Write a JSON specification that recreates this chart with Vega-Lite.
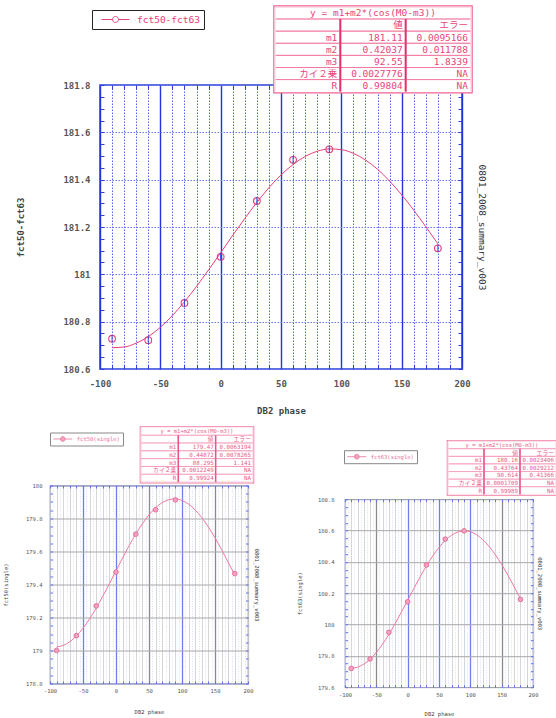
{
"$schema":"https://vega.github.io/schema/vega-lite/v6.json",
"background":"white",
"padding":{"left":2,"top":4,"right":0,"bottom":0},
"spacing":9.5,
"align":"none",
"resolve":{"scale":{"x":"independent","y":"independent","color":"independent"},"legend":{"color":"independent"}},
"datasets":{
"top_pts":[{"x":-90,"y":180.728,"s":"fct50-fct63"},{"x":-60,"y":180.722,"s":"fct50-fct63"},{"x":-30,"y":180.879,"s":"fct50-fct63"},{"x":0,"y":181.074,"s":"fct50-fct63"},{"x":30,"y":181.31,"s":"fct50-fct63"},{"x":60,"y":181.484,"s":"fct50-fct63"},{"x":90,"y":181.528,"s":"fct50-fct63"},{"x":180,"y":181.11,"s":"fct50-fct63"}],
"top_fit":[{"x":-90,"y":180.690},{"x":-80,"y":180.693},{"x":-70,"y":180.709},{"x":-60,"y":180.737},{"x":-50,"y":180.776},{"x":-40,"y":180.826},{"x":-30,"y":180.884},{"x":-20,"y":180.949},{"x":-10,"y":181.019},{"x":0,"y":181.091},{"x":10,"y":181.165},{"x":20,"y":181.236},{"x":30,"y":181.304},{"x":40,"y":181.366},{"x":50,"y":181.420},{"x":60,"y":181.464},{"x":70,"y":181.498},{"x":80,"y":181.520},{"x":90,"y":181.530},{"x":100,"y":181.527},{"x":110,"y":181.511},{"x":120,"y":181.483},{"x":130,"y":181.444},{"x":140,"y":181.394},{"x":150,"y":181.336},{"x":160,"y":181.271},{"x":170,"y":181.201},{"x":180,"y":181.129}],
"top_tbl":[{"row":0,"row2":1,"col":0,"col2":3,"text":"y = m1+m2*(cos(M0-m3))"},{"row":1,"row2":2,"col":0,"col2":1,"text":""},{"row":1,"row2":2,"col":1,"col2":2,"text":"値"},{"row":1,"row2":2,"col":2,"col2":3,"text":"エラー"},{"row":2,"row2":3,"col":0,"col2":1,"text":"m1"},{"row":2,"row2":3,"col":1,"col2":2,"text":"181.11"},{"row":2,"row2":3,"col":2,"col2":3,"text":"0.0095166"},{"row":3,"row2":4,"col":0,"col2":1,"text":"m2"},{"row":3,"row2":4,"col":1,"col2":2,"text":"0.42037"},{"row":3,"row2":4,"col":2,"col2":3,"text":"0.011788"},{"row":4,"row2":5,"col":0,"col2":1,"text":"m3"},{"row":4,"row2":5,"col":1,"col2":2,"text":"92.55"},{"row":4,"row2":5,"col":2,"col2":3,"text":"1.8339"},{"row":5,"row2":6,"col":0,"col2":1,"text":"カイ２乗"},{"row":5,"row2":6,"col":1,"col2":2,"text":"0.0027776"},{"row":5,"row2":6,"col":2,"col2":3,"text":"NA"},{"row":6,"row2":7,"col":0,"col2":1,"text":"R"},{"row":6,"row2":7,"col":1,"col2":2,"text":"0.99804"},{"row":6,"row2":7,"col":2,"col2":3,"text":"NA"}],
"bl_pts":[{"x":-90,"y":179.0,"s":"fct50(single)"},{"x":-60,"y":179.09,"s":"fct50(single)"},{"x":-30,"y":179.27,"s":"fct50(single)"},{"x":0,"y":179.475,"s":"fct50(single)"},{"x":30,"y":179.705,"s":"fct50(single)"},{"x":60,"y":179.853,"s":"fct50(single)"},{"x":90,"y":179.913,"s":"fct50(single)"},{"x":180,"y":179.466,"s":"fct50(single)"}],
"bl_fit":[{"x":-90,"y":179.021},{"x":-80,"y":179.031},{"x":-70,"y":179.053},{"x":-60,"y":179.088},{"x":-50,"y":179.135},{"x":-40,"y":179.192},{"x":-30,"y":179.257},{"x":-20,"y":179.329},{"x":-10,"y":179.405},{"x":0,"y":179.483},{"x":10,"y":179.561},{"x":20,"y":179.636},{"x":30,"y":179.706},{"x":40,"y":179.768},{"x":50,"y":179.822},{"x":60,"y":179.865},{"x":70,"y":179.896},{"x":80,"y":179.914},{"x":90,"y":179.919},{"x":100,"y":179.909},{"x":110,"y":179.887},{"x":120,"y":179.852},{"x":130,"y":179.805},{"x":140,"y":179.748},{"x":150,"y":179.683},{"x":160,"y":179.611},{"x":170,"y":179.535},{"x":180,"y":179.457}],
"bl_tbl":[{"row":0,"row2":1,"col":0,"col2":3,"text":"y = m1+m2*(cos(M0-m3))"},{"row":1,"row2":2,"col":0,"col2":1,"text":""},{"row":1,"row2":2,"col":1,"col2":2,"text":"値"},{"row":1,"row2":2,"col":2,"col2":3,"text":"エラー"},{"row":2,"row2":3,"col":0,"col2":1,"text":"m1"},{"row":2,"row2":3,"col":1,"col2":2,"text":"179.47"},{"row":2,"row2":3,"col":2,"col2":3,"text":"0.0063194"},{"row":3,"row2":4,"col":0,"col2":1,"text":"m2"},{"row":3,"row2":4,"col":1,"col2":2,"text":"0.44872"},{"row":3,"row2":4,"col":2,"col2":3,"text":"0.0078265"},{"row":4,"row2":5,"col":0,"col2":1,"text":"m3"},{"row":4,"row2":5,"col":1,"col2":2,"text":"88.295"},{"row":4,"row2":5,"col":2,"col2":3,"text":"1.141"},{"row":5,"row2":6,"col":0,"col2":1,"text":"カイ２乗"},{"row":5,"row2":6,"col":1,"col2":2,"text":"0.0012249"},{"row":5,"row2":6,"col":2,"col2":3,"text":"NA"},{"row":6,"row2":7,"col":0,"col2":1,"text":"R"},{"row":6,"row2":7,"col":1,"col2":2,"text":"0.99924"},{"row":6,"row2":7,"col":2,"col2":3,"text":"NA"}],
"br_pts":[{"x":-90,"y":179.72,"s":"fct63(single)"},{"x":-60,"y":179.78,"s":"fct63(single)"},{"x":-30,"y":179.95,"s":"fct63(single)"},{"x":0,"y":180.145,"s":"fct63(single)"},{"x":30,"y":180.38,"s":"fct63(single)"},{"x":60,"y":180.545,"s":"fct63(single)"},{"x":90,"y":180.598,"s":"fct63(single)"},{"x":180,"y":180.16,"s":"fct63(single)"}],
"br_fit":[{"x":-90,"y":179.722},{"x":-80,"y":179.728},{"x":-70,"y":179.747},{"x":-60,"y":179.779},{"x":-50,"y":179.822},{"x":-40,"y":179.875},{"x":-30,"y":179.937},{"x":-20,"y":180.006},{"x":-10,"y":180.079},{"x":0,"y":180.155},{"x":10,"y":180.231},{"x":20,"y":180.305},{"x":30,"y":180.375},{"x":40,"y":180.438},{"x":50,"y":180.492},{"x":60,"y":180.537},{"x":70,"y":180.570},{"x":80,"y":180.590},{"x":90,"y":180.598},{"x":100,"y":180.592},{"x":110,"y":180.573},{"x":120,"y":180.541},{"x":130,"y":180.498},{"x":140,"y":180.445},{"x":150,"y":180.383},{"x":160,"y":180.314},{"x":170,"y":180.241},{"x":180,"y":180.165}],
"br_tbl":[{"row":0,"row2":1,"col":0,"col2":3,"text":"y = m1+m2*(cos(M0-m3))"},{"row":1,"row2":2,"col":0,"col2":1,"text":""},{"row":1,"row2":2,"col":1,"col2":2,"text":"値"},{"row":1,"row2":2,"col":2,"col2":3,"text":"エラー"},{"row":2,"row2":3,"col":0,"col2":1,"text":"m1"},{"row":2,"row2":3,"col":1,"col2":2,"text":"180.16"},{"row":2,"row2":3,"col":2,"col2":3,"text":"0.0023406"},{"row":3,"row2":4,"col":0,"col2":1,"text":"m2"},{"row":3,"row2":4,"col":1,"col2":2,"text":"0.43764"},{"row":3,"row2":4,"col":2,"col2":3,"text":"0.0029212"},{"row":4,"row2":5,"col":0,"col2":1,"text":"m3"},{"row":4,"row2":5,"col":1,"col2":2,"text":"90.614"},{"row":4,"row2":5,"col":2,"col2":3,"text":"0.41366"},{"row":5,"row2":6,"col":0,"col2":1,"text":"カイ２乗"},{"row":5,"row2":6,"col":1,"col2":2,"text":"0.0001709"},{"row":5,"row2":6,"col":2,"col2":3,"text":"NA"},{"row":6,"row2":7,"col":0,"col2":1,"text":"R"},{"row":6,"row2":7,"col":1,"col2":2,"text":"0.99989"},{"row":6,"row2":7,"col":2,"col2":3,"text":"NA"}]
},
"vconcat":[
{
"hconcat":[
{"width":1,"height":1,"data":{"values":[]},"mark":{"type":"point","opacity":0},"view":{"stroke":null}},
{
"width":362,"height":284,
"resolve":{"scale":{"x":"independent","y":"independent"},"axis":{"x":"independent","y":"independent"}},
"layer":[
{"data":{"name":"top_fit"},"mark":{"type":"line","color":"#e8407a","strokeWidth":1,"interpolate":"monotone"},
"encoding":{
"x":{"field":"x","type":"quantitative","scale":{"domain":[-100,200],"nice":false,"zero":false},
"axis":{"orient":"bottom","values":[-100,-90,-80,-70,-60,-50,-40,-30,-20,-10,0,10,20,30,40,50,60,70,80,90,100,110,120,130,140,150,160,170,180,190,200],"labelExpr":"datum.value % 50 === 0 ? datum.value + '' : ''","labelPadding":14,"labelFontSize":9,"labelFontWeight":"bold","tickSize":-4,"tickColor":"#2e3fd8","grid":true,
"gridColor":{"condition":{"test":"datum.value % 50 === 0","value":"#2233d8"},"value":"#5565f0"},
"gridDash":{"condition":{"test":"datum.value % 50 === 0","value":[]},"value":[1.5,1.5]},
"gridWidth":{"condition":{"test":"datum.value % 50 === 0","value":1.4},"value":1},
"title":"DB2 phase","titleFontSize":9,"titleFontWeight":"bold","titlePadding":18}},
"y":{"field":"y","type":"quantitative","scale":{"domain":[180.6,181.8],"nice":false,"zero":false},
"axis":{"orient":"left","values":[180.6,180.65,180.7,180.75,180.8,180.85,180.9,180.95,181,181.05,181.1,181.15,181.2,181.25,181.3,181.35,181.4,181.45,181.5,181.55,181.6,181.65,181.7,181.75,181.8],"labelExpr":"abs(datum.value*5-round(datum.value*5)) < 0.001 ? datum.value + '' : ''","labelPadding":14,"labelFontSize":9,"labelFontWeight":"bold","tickSize":-4,"tickColor":"#2e3fd8","grid":true,
"gridOpacity":{"condition":{"test":"abs(datum.value*5-round(datum.value*5)) < 0.001","value":1},"value":0},
"gridColor":"#6a7af2","gridDash":[1.5,1.5],"gridWidth":1.2,
"title":"fct50-fct63","titleFontSize":9,"titleFontWeight":"bold","titlePadding":37}}
}},
{"data":{"name":"top_pts"},"mark":{"type":"point","shape":"circle","filled":false,"size":45,"strokeWidth":1.1,"opacity":1},
"encoding":{
"x":{"field":"x","type":"quantitative","scale":{"domain":[-100,200],"nice":false,"zero":false},
"axis":{"orient":"top","values":[-100,-90,-80,-70,-60,-50,-40,-30,-20,-10,0,10,20,30,40,50,60,70,80,90,100,110,120,130,140,150,160,170,180,190,200],"labels":false,"tickSize":-4,"tickColor":"#2e3fd8","grid":false,"title":null}},
"y":{"field":"y","type":"quantitative","scale":{"domain":[180.6,181.8],"nice":false,"zero":false},
"axis":{"orient":"right","values":[180.6,180.65,180.7,180.75,180.8,180.85,180.9,180.95,181,181.05,181.1,181.15,181.2,181.25,181.3,181.35,181.4,181.45,181.5,181.55,181.6,181.65,181.7,181.75,181.8],"labels":false,"tickSize":-4,"tickColor":"#2e3fd8","grid":false,"title":"0801_2008_summary_v003","titleFontSize":9.5,"titleFontWeight":"normal","titleColor":"#333","titleAngle":90,"titlePadding":14}},
"color":{"field":"s","type":"nominal","scale":{"range":["#e8407a"]},
"legend":{"title":null,"orient":"none","legendX":-8,"legendY":-75,"symbolType":"M-2.8,0L-0.6,0M0.6,0L2.8,0M-0.6,0A0.6,0.6,0,1,0,0.6,0A0.6,0.6,0,1,0,-0.6,0","symbolSize":100,"symbolStrokeWidth":1,"symbolOffset":14,"labelOffset":16,"padding":4,"strokeColor":"#222","fillColor":"white","labelFontSize":9.5,"labelColor":"#e8407a","labelFont":"DejaVu Sans Mono"}}
}},
{"data":{"name":"top_pts"},"mark":{"type":"point","shape":"M0,-1L0,1","filled":false,"size":60,"strokeWidth":1,"color":"#3344dd","opacity":1},
"encoding":{
"x":{"field":"x","type":"quantitative","scale":{"domain":[-100,200],"nice":false,"zero":false},"axis":null},
"y":{"field":"y","type":"quantitative","scale":{"domain":[180.6,181.8],"nice":false,"zero":false},"axis":null}
}},
{"data":{"name":"top_tbl"},
"layer":[
{"transform":[{"aggregate":[{"op":"min","field":"row","as":"r0"},{"op":"max","field":"row2","as":"r1"},{"op":"min","field":"col","as":"c0"},{"op":"max","field":"col2","as":"c1"}]}],
"mark":{"type":"rect","fill":"white","stroke":"#ef5f8f","strokeWidth":3.5},
"encoding":{"x":{"field":"c0","type":"quantitative","scale":{"domain":[-2.6786,2.8622],"nice":false,"zero":false},"axis":null},"x2":{"field":"c1"},"y":{"field":"r0","type":"quantitative","scale":{"domain":[6.446,29.92],"nice":false,"zero":false,"reverse":true},"axis":null},"y2":{"field":"r1"}}},
{"mark":{"type":"rect","fill":"white","stroke":"#f27aa2","strokeWidth":1},
"encoding":{"x":{"field":"col","type":"quantitative","scale":{"domain":[-2.6786,2.8622],"nice":false,"zero":false},"axis":null},"x2":{"field":"col2"},"y":{"field":"row","type":"quantitative","scale":{"domain":[6.446,29.92],"nice":false,"zero":false,"reverse":true},"axis":null},"y2":{"field":"row2"}}},
{"transform":[{"aggregate":[{"op":"min","field":"row","as":"r0"},{"op":"max","field":"row2","as":"r1"},{"op":"min","field":"col","as":"c0"},{"op":"max","field":"col2","as":"c1"}]}],
"mark":{"type":"rect","fill":"white","fillOpacity":0,"stroke":"white","strokeWidth":1.2},
"encoding":{"x":{"field":"c0","type":"quantitative","scale":{"domain":[-2.6786,2.8622],"nice":false,"zero":false},"axis":null},"x2":{"field":"c1"},"y":{"field":"r0","type":"quantitative","scale":{"domain":[6.446,29.92],"nice":false,"zero":false,"reverse":true},"axis":null},"y2":{"field":"r1"}}},
{"transform":[{"filter":"datum.row >= 1 && datum.col >= 1"}],"mark":{"type":"rule","color":"#e2306a","strokeWidth":2},
"encoding":{"x":{"field":"col","type":"quantitative","scale":{"domain":[-2.6786,2.8622],"nice":false,"zero":false},"axis":null},"y":{"field":"row","type":"quantitative","scale":{"domain":[6.446,29.92],"nice":false,"zero":false,"reverse":true},"axis":null},"y2":{"field":"row2"}}},
{"transform":[{"filter":"datum.row >= 1"}],"mark":{"type":"text","align":"right","baseline":"middle","dx":-3,"dy":6.3,"font":"DejaVu Sans Mono, Noto Sans CJK JP","fontSize":9.5,"color":"#e8457a"},
"encoding":{"x":{"field":"col2","type":"quantitative","scale":{"domain":[-2.6786,2.8622],"nice":false,"zero":false},"axis":null},"y":{"field":"row","type":"quantitative","scale":{"domain":[6.446,29.92],"nice":false,"zero":false,"reverse":true},"axis":null},"text":{"field":"text"}}},
{"transform":[{"filter":"datum.row == 0"}],"mark":{"type":"text","align":"center","baseline":"middle","dy":6.3,"font":"DejaVu Sans Mono, Noto Sans CJK JP","fontSize":9.5,"color":"#e8457a"},
"encoding":{"x":{"datum":1.5,"type":"quantitative","scale":{"domain":[-2.6786,2.8622],"nice":false,"zero":false},"axis":null},"y":{"field":"row","type":"quantitative","scale":{"domain":[6.446,29.92],"nice":false,"zero":false,"reverse":true},"axis":null},"text":{"field":"text"}}}
]}
]
}
],
"spacing":-35,
"align":"none",
"resolve":{"scale":{"x":"independent","y":"independent","color":"independent"},"legend":{"color":"independent"}}
},
{
"align":"none",
"hconcat":[
{
"width":198,"height":198,
"view":{"stroke":"#7080f0","strokeWidth":1.2},
"resolve":{"scale":{"x":"independent","y":"independent"},"axis":{"x":"independent","y":"independent"}},
"layer":[
{"data":{"name":"bl_fit"},"mark":{"type":"line","color":"#f07aa2","strokeWidth":1,"interpolate":"monotone"},
"encoding":{
"x":{"field":"x","type":"quantitative","scale":{"domain":[-100,200],"nice":false,"zero":false},
"axis":{"orient":"bottom","values":[-100,-95,-90,-85,-80,-75,-70,-65,-60,-55,-50,-45,-40,-35,-30,-25,-20,-15,-10,-5,0,5,10,15,20,25,30,35,40,45,50,55,60,65,70,75,80,85,90,95,100,105,110,115,120,125,130,135,140,145,150,155,160,165,170,175,180,185,190,195,200],"labelExpr":"datum.value % 50 === 0 ? datum.value + '' : ''","labelPadding":7.5,"labelFontSize":5.5,"tickSize":-2.5,"tickColor":"#6070f0",
"tickOpacity":{"condition":{"test":"datum.value % 10 === 0","value":1},"value":0},
"grid":true,
"gridColor":{"condition":[{"test":"datum.value == -50 || datum.value == 0 || datum.value == 100","value":"#6f7ff0"},{"test":"datum.value == 50 || datum.value == 150","value":"#8a8a8a"},{"test":"datum.value % 10 === 0","value":"#c4c4c4"}],"value":"#ccd3fb"},
"gridDash":{"condition":{"test":"datum.value % 10 === 0","value":[]},"value":[1,1.5]},
"gridWidth":{"condition":{"test":"datum.value % 50 === 0","value":1.3},"value":0.7},
"title":"DB2 phase","titleFontSize":5.5,"titleFontWeight":"normal","titlePadding":15}},
"y":{"field":"y","type":"quantitative","scale":{"domain":[178.8,180],"nice":false,"zero":false},
"axis":{"orient":"left","values":[178.8,178.85,178.9,178.95,179,179.05,179.1,179.15,179.2,179.25,179.3,179.35,179.4,179.45,179.5,179.55,179.6,179.65,179.7,179.75,179.8,179.85,179.9,179.95,180],"labelExpr":"abs(datum.value*5-round(datum.value*5)) < 0.001 ? datum.value + '' : ''","labelPadding":10.5,"labelFontSize":5.5,"tickSize":-2.5,"tickColor":"#6070f0","grid":true,
"gridOpacity":{"condition":{"test":"abs(datum.value*5-round(datum.value*5)) < 0.001","value":1},"value":0},
"gridColor":"#a8a8a8","gridWidth":1,
"title":"fct50(single)","titleFontSize":5.5,"titleFontWeight":"normal","titlePadding":17}}
}},
{"data":{"name":"bl_pts"},"mark":{"type":"point","shape":"circle","filled":true,"size":22,"stroke":"#e0608f","strokeWidth":0.8,"opacity":1},
"encoding":{
"x":{"field":"x","type":"quantitative","scale":{"domain":[-100,200],"nice":false,"zero":false},
"axis":{"orient":"top","values":[-100,-90,-80,-70,-60,-50,-40,-30,-20,-10,0,10,20,30,40,50,60,70,80,90,100,110,120,130,140,150,160,170,180,190,200],"labels":false,"tickSize":-2.5,"tickColor":"#6070f0","grid":false,"title":null}},
"y":{"field":"y","type":"quantitative","scale":{"domain":[178.8,180],"nice":false,"zero":false},
"axis":{"orient":"right","values":[178.8,178.85,178.9,178.95,179,179.05,179.1,179.15,179.2,179.25,179.3,179.35,179.4,179.45,179.5,179.55,179.6,179.65,179.7,179.75,179.8,179.85,179.9,179.95,180],"labels":false,"tickSize":-2.5,"tickColor":"#6070f0","grid":false,"title":"0801_2008_summary_v003","titleFontSize":5.5,"titleFontWeight":"normal","titleColor":"#333","titleAngle":90,"titlePadding":5}},
"color":{"field":"s","type":"nominal","scale":{"range":["#f4a2c0"]},
"legend":{"title":null,"orient":"none","legendX":0,"legendY":-53,"symbolType":"M-3,0L-0.75,0M0.75,0L3,0M-0.75,0A0.75,0.75,0,1,0,0.75,0A0.75,0.75,0,1,0,-0.75,0","symbolSize":40,"symbolStrokeWidth":0.8,"symbolStrokeColor":"#e8709a","symbolOffset":6.3,"labelOffset":10,"padding":2.5,"strokeColor":"#888","fillColor":"white","labelFontSize":5.5,"labelColor":"#f07098","labelFont":"DejaVu Sans Mono"}}
}},
{"data":{"name":"bl_tbl"},
"layer":[
{"transform":[{"aggregate":[{"op":"min","field":"row","as":"r0"},{"op":"max","field":"row2","as":"r1"},{"op":"min","field":"col","as":"c0"},{"op":"max","field":"col2","as":"c1"}]}],
"mark":{"type":"rect","fill":"white","stroke":"#f27aa2","strokeWidth":2.6},
"encoding":{"x":{"field":"c0","type":"quantitative","scale":{"domain":[-2.4375,2.8665],"nice":false,"zero":false},"axis":null},"x2":{"field":"c1"},"y":{"field":"r0","type":"quantitative","scale":{"domain":[7.436,32.82],"nice":false,"zero":false,"reverse":true},"axis":null},"y2":{"field":"r1"}}},
{"mark":{"type":"rect","fill":"white","stroke":"#f592b4","strokeWidth":0.8},
"encoding":{"x":{"field":"col","type":"quantitative","scale":{"domain":[-2.4375,2.8665],"nice":false,"zero":false},"axis":null},"x2":{"field":"col2"},"y":{"field":"row","type":"quantitative","scale":{"domain":[7.436,32.82],"nice":false,"zero":false,"reverse":true},"axis":null},"y2":{"field":"row2"}}},
{"transform":[{"aggregate":[{"op":"min","field":"row","as":"r0"},{"op":"max","field":"row2","as":"r1"},{"op":"min","field":"col","as":"c0"},{"op":"max","field":"col2","as":"c1"}]}],
"mark":{"type":"rect","fill":"white","fillOpacity":0,"stroke":"white","strokeWidth":0.8},
"encoding":{"x":{"field":"c0","type":"quantitative","scale":{"domain":[-2.4375,2.8665],"nice":false,"zero":false},"axis":null},"x2":{"field":"c1"},"y":{"field":"r0","type":"quantitative","scale":{"domain":[7.436,32.82],"nice":false,"zero":false,"reverse":true},"axis":null},"y2":{"field":"r1"}}},
{"transform":[{"filter":"datum.row >= 1 && datum.col >= 1"}],"mark":{"type":"rule","color":"#ea5588","strokeWidth":1.5},
"encoding":{"x":{"field":"col","type":"quantitative","scale":{"domain":[-2.4375,2.8665],"nice":false,"zero":false},"axis":null},"y":{"field":"row","type":"quantitative","scale":{"domain":[7.436,32.82],"nice":false,"zero":false,"reverse":true},"axis":null},"y2":{"field":"row2"}}},
{"transform":[{"filter":"datum.row >= 1"}],"mark":{"type":"text","align":"right","baseline":"middle","dx":-2,"dy":4,"font":"DejaVu Sans Mono, Noto Sans CJK JP","fontSize":5.8,"color":"#ea5a8a"},
"encoding":{"x":{"field":"col2","type":"quantitative","scale":{"domain":[-2.4375,2.8665],"nice":false,"zero":false},"axis":null},"y":{"field":"row","type":"quantitative","scale":{"domain":[7.436,32.82],"nice":false,"zero":false,"reverse":true},"axis":null},"text":{"field":"text"}}},
{"transform":[{"filter":"datum.row == 0"}],"mark":{"type":"text","align":"center","baseline":"middle","dy":4,"font":"DejaVu Sans Mono, Noto Sans CJK JP","fontSize":5.5,"color":"#ea5a8a"},
"encoding":{"x":{"datum":1.5,"type":"quantitative","scale":{"domain":[-2.4375,2.8665],"nice":false,"zero":false},"axis":null},"y":{"field":"row","type":"quantitative","scale":{"domain":[7.436,32.82],"nice":false,"zero":false,"reverse":true},"axis":null},"text":{"field":"text"}}}
]}
]
},
{
"align":"none",
"spacing":-47.3,
"resolve":{"scale":{"x":"independent","y":"independent","color":"independent"},"legend":{"color":"independent"}},
"vconcat":[
{"width":1,"height":1,"data":{"values":[]},"mark":{"type":"point","opacity":0},"view":{"stroke":null}},
{
"width":188,"height":188,
"view":{"stroke":"#7080f0","strokeWidth":1.2},
"resolve":{"scale":{"x":"independent","y":"independent"},"axis":{"x":"independent","y":"independent"}},
"layer":[
{"data":{"name":"br_fit"},"mark":{"type":"line","color":"#f07aa2","strokeWidth":1,"interpolate":"monotone"},
"encoding":{
"x":{"field":"x","type":"quantitative","scale":{"domain":[-100,200],"nice":false,"zero":false},
"axis":{"orient":"bottom","values":[-100,-95,-90,-85,-80,-75,-70,-65,-60,-55,-50,-45,-40,-35,-30,-25,-20,-15,-10,-5,0,5,10,15,20,25,30,35,40,45,50,55,60,65,70,75,80,85,90,95,100,105,110,115,120,125,130,135,140,145,150,155,160,165,170,175,180,185,190,195,200],"labelExpr":"datum.value % 50 === 0 ? datum.value + '' : ''","labelPadding":7.5,"labelFontSize":5.5,"tickSize":-2.5,"tickColor":"#6070f0",
"tickOpacity":{"condition":{"test":"datum.value % 10 === 0","value":1},"value":0},
"grid":true,
"gridColor":{"condition":[{"test":"datum.value == 0 || datum.value == 50 || datum.value == 100","value":"#6f7ff0"},{"test":"datum.value == -50 || datum.value == 150","value":"#8a8a8a"},{"test":"datum.value % 10 === 0","value":"#c4c4c4"}],"value":"#ccd3fb"},
"gridDash":{"condition":{"test":"datum.value % 10 === 0","value":[]},"value":[1,1.5]},
"gridWidth":{"condition":{"test":"datum.value % 50 === 0","value":1.3},"value":0.7},
"title":"DB2 phase","titleFontSize":5.5,"titleFontWeight":"normal","titlePadding":14}},
"y":{"field":"y","type":"quantitative","scale":{"domain":[179.6,180.8],"nice":false,"zero":false},
"axis":{"orient":"left","values":[179.6,179.65,179.7,179.75,179.8,179.85,179.9,179.95,180,180.05,180.1,180.15,180.2,180.25,180.3,180.35,180.4,180.45,180.5,180.55,180.6,180.65,180.7,180.75,180.8],"labelExpr":"abs(datum.value*5-round(datum.value*5)) < 0.001 ? datum.value + '' : ''","labelPadding":13.5,"labelFontSize":5.5,"tickSize":-2.5,"tickColor":"#6070f0","grid":true,
"gridOpacity":{"condition":{"test":"abs(datum.value*5-round(datum.value*5)) < 0.001","value":1},"value":0},
"gridColor":"#a8a8a8","gridWidth":1,
"title":"fct63(single)","titleFontSize":5.5,"titleFontWeight":"normal","titlePadding":15}}
}},
{"data":{"name":"br_pts"},"mark":{"type":"point","shape":"circle","filled":true,"size":22,"stroke":"#e0608f","strokeWidth":0.8,"opacity":1},
"encoding":{
"x":{"field":"x","type":"quantitative","scale":{"domain":[-100,200],"nice":false,"zero":false},
"axis":{"orient":"top","values":[-100,-90,-80,-70,-60,-50,-40,-30,-20,-10,0,10,20,30,40,50,60,70,80,90,100,110,120,130,140,150,160,170,180,190,200],"labels":false,"tickSize":-2.5,"tickColor":"#6070f0","grid":false,"title":null}},
"y":{"field":"y","type":"quantitative","scale":{"domain":[179.6,180.8],"nice":false,"zero":false},
"axis":{"orient":"right","values":[179.6,179.65,179.7,179.75,179.8,179.85,179.9,179.95,180,180.05,180.1,180.15,180.2,180.25,180.3,180.35,180.4,180.45,180.5,180.55,180.6,180.65,180.7,180.75,180.8],"labels":false,"tickSize":-2.5,"tickColor":"#6070f0","grid":false,"title":"0801_2008_summary_v003","titleFontSize":5.5,"titleFontWeight":"normal","titleColor":"#333","titleAngle":90,"titlePadding":3}},
"color":{"field":"s","type":"nominal","scale":{"range":["#f4a2c0"]},
"legend":{"title":null,"orient":"none","legendX":-1,"legendY":-49,"symbolType":"M-3,0L-0.75,0M0.75,0L3,0M-0.75,0A0.75,0.75,0,1,0,0.75,0A0.75,0.75,0,1,0,-0.75,0","symbolSize":40,"symbolStrokeWidth":0.8,"symbolStrokeColor":"#e8709a","symbolOffset":6.3,"labelOffset":10,"padding":2.5,"strokeColor":"#888","fillColor":"white","labelFontSize":5.5,"labelColor":"#f07098","labelFont":"DejaVu Sans Mono"}}
}},
{"data":{"name":"br_tbl"},
"layer":[
{"transform":[{"aggregate":[{"op":"min","field":"row","as":"r0"},{"op":"max","field":"row2","as":"r1"},{"op":"min","field":"col","as":"c0"},{"op":"max","field":"col2","as":"c1"}]}],
"mark":{"type":"rect","fill":"white","stroke":"#f27aa2","strokeWidth":2.6},
"encoding":{"x":{"field":"c0","type":"quantitative","scale":{"domain":[-2.861,2.361],"nice":false,"zero":false},"axis":null},"x2":{"field":"c1"},"y":{"field":"r0","type":"quantitative","scale":{"domain":[7.632,32.368],"nice":false,"zero":false,"reverse":true},"axis":null},"y2":{"field":"r1"}}},
{"mark":{"type":"rect","fill":"white","stroke":"#f592b4","strokeWidth":0.8},
"encoding":{"x":{"field":"col","type":"quantitative","scale":{"domain":[-2.861,2.361],"nice":false,"zero":false},"axis":null},"x2":{"field":"col2"},"y":{"field":"row","type":"quantitative","scale":{"domain":[7.632,32.368],"nice":false,"zero":false,"reverse":true},"axis":null},"y2":{"field":"row2"}}},
{"transform":[{"aggregate":[{"op":"min","field":"row","as":"r0"},{"op":"max","field":"row2","as":"r1"},{"op":"min","field":"col","as":"c0"},{"op":"max","field":"col2","as":"c1"}]}],
"mark":{"type":"rect","fill":"white","fillOpacity":0,"stroke":"white","strokeWidth":0.8},
"encoding":{"x":{"field":"c0","type":"quantitative","scale":{"domain":[-2.861,2.361],"nice":false,"zero":false},"axis":null},"x2":{"field":"c1"},"y":{"field":"r0","type":"quantitative","scale":{"domain":[7.632,32.368],"nice":false,"zero":false,"reverse":true},"axis":null},"y2":{"field":"r1"}}},
{"transform":[{"filter":"datum.row >= 1 && datum.col >= 1"}],"mark":{"type":"rule","color":"#ea5588","strokeWidth":1.5},
"encoding":{"x":{"field":"col","type":"quantitative","scale":{"domain":[-2.861,2.361],"nice":false,"zero":false},"axis":null},"y":{"field":"row","type":"quantitative","scale":{"domain":[7.632,32.368],"nice":false,"zero":false,"reverse":true},"axis":null},"y2":{"field":"row2"}}},
{"transform":[{"filter":"datum.row >= 1"}],"mark":{"type":"text","align":"right","baseline":"middle","dx":-2,"dy":3.9,"font":"DejaVu Sans Mono, Noto Sans CJK JP","fontSize":5.8,"color":"#ea5a8a"},
"encoding":{"x":{"field":"col2","type":"quantitative","scale":{"domain":[-2.861,2.361],"nice":false,"zero":false},"axis":null},"y":{"field":"row","type":"quantitative","scale":{"domain":[7.632,32.368],"nice":false,"zero":false,"reverse":true},"axis":null},"text":{"field":"text"}}},
{"transform":[{"filter":"datum.row == 0"}],"mark":{"type":"text","align":"center","baseline":"middle","dy":3.9,"font":"DejaVu Sans Mono, Noto Sans CJK JP","fontSize":5.5,"color":"#ea5a8a"},
"encoding":{"x":{"datum":1.5,"type":"quantitative","scale":{"domain":[-2.861,2.361],"nice":false,"zero":false},"axis":null},"y":{"field":"row","type":"quantitative","scale":{"domain":[7.632,32.368],"nice":false,"zero":false,"reverse":true},"axis":null},"text":{"field":"text"}}}
]}
]
}
]
}
],
"spacing":36,
"resolve":{"scale":{"x":"independent","y":"independent","color":"independent"},"legend":{"color":"independent"}}
}
],
"config":{
"view":{"stroke":"#2e3fd8","strokeWidth":1.5},
"axis":{"labelFont":"DejaVu Sans Mono","titleFont":"DejaVu Sans Mono","labelColor":"#555","titleColor":"#444","domain":false,"labelOverlap":false,"labelFlush":false,"labelBound":false},
"legend":{"labelFont":"DejaVu Sans Mono"}
}
}
